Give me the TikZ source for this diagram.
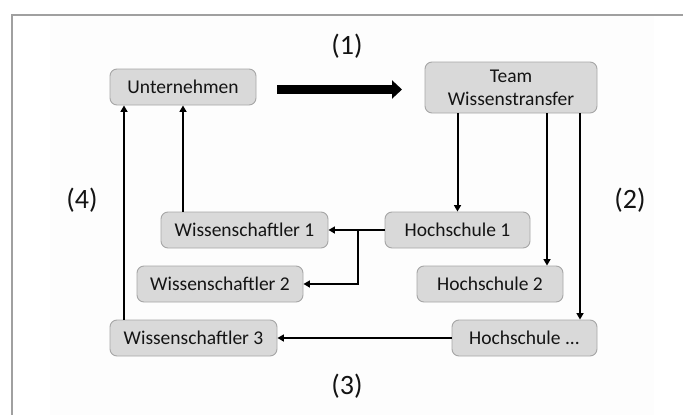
\documentclass[tikz,border=0pt]{standalone}
\usepackage{fontspec}
\setmainfont{Carlito}
\usetikzlibrary{arrows.meta}
\definecolor{boxfill}{HTML}{D9D9D9}
\definecolor{boxline}{HTML}{A6A6A6}
\definecolor{txt}{HTML}{141414}
\definecolor{frameline}{HTML}{A0A0A0}
\definecolor{panel}{HTML}{FDFDFD}
\tikzset{
  box/.style={draw=boxline, line width=0.9pt, fill=boxfill, rounded corners=7pt,
    minimum height=36pt, inner sep=0pt, text=txt,
    font=\fontsize{19.5}{23}\selectfont},
  link/.style={draw=black, line width=2pt, -{Triangle[length=6.5pt,width=7pt]}},
  bigarrow/.style={draw=black, line width=9pt, -{Triangle[length=10pt,width=18pt]}},
  steplabel/.style={text=txt, font=\fontsize{28}{32}\selectfont}
}
\begin{document}
\begin{tikzpicture}[x=1pt,y=-1pt]
  \useasboundingbox (0,0) rectangle (683,415);
  % panel and frame
  \fill[panel] (50,16) rectangle (654,415);
  \draw[frameline, line width=1.2pt] (12,415) -- (12,15) -- (683,15);

  % boxes
  \node[box, minimum width=146pt] (U)  at (183,87)    {Unternehmen};
  \node[box, minimum width=172pt, minimum height=51pt, align=center] (T) at (511,87.5) {Team\\Wissenstransfer};
  \node[box, minimum width=167pt] (W1) at (244.5,230) {Wissenschaftler 1};
  \node[box, minimum width=166pt] (W2) at (220,284)   {Wissenschaftler 2};
  \node[box, minimum width=167pt] (W3) at (193.5,338) {Wissenschaftler 3};
  \node[box, minimum width=145pt] (H1) at (457.5,230) {Hochschule 1};
  \node[box, minimum width=146pt] (H2) at (490,284)   {Hochschule 2};
  \node[box, minimum width=145pt] (H3) at (524.5,338) {Hochschule ...};

  % step numbers
  \node[steplabel] (s1) at (347,46)  {(1)};
  \node[steplabel] (s2) at (630,200) {(2)};
  \node[steplabel] (s3) at (347,386) {(3)};
  \node[steplabel] (s4) at (82,200)  {(4)};

  % helper columns for the vertical connectors
  \coordinate (c2) at (547,0);
  \coordinate (c3) at (580,0);
  \coordinate (jn) at (358,0);
  \coordinate (cl) at (124,0);
  \coordinate (a1) at (277,89.5);
  \coordinate (a2) at (402,89.5);

  % (1) company to transfer team
  \draw[bigarrow] (a1) -- (a2);

  % (2) transfer team to universities
  \draw[link] (T.south -| H1) -- (H1.north);
  \draw[link] (T.south -| c2) -- (H2.north -| c2);
  \draw[link] (T.south -| c3) -- (H3.north -| c3);

  % (3) universities to scientists
  \draw[link] (H1.west) -- (W1.east);
  \draw[link] (W1.east -| jn) |- (W2.east);
  \draw[link] (H3.west) -- (W3.east);

  % (4) scientists back to the company
  \draw[link] (W1.north -| U) -- (U.south);
  \draw[link] (W3.north -| cl) -- (U.south -| cl);
\end{tikzpicture}
\end{document}
